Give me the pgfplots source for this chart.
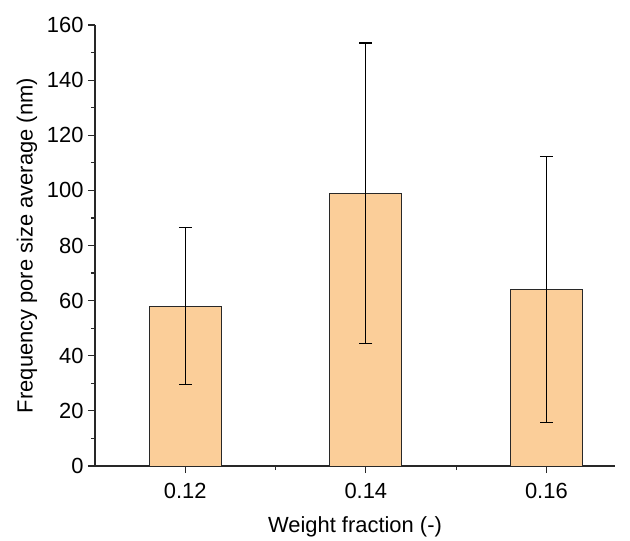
\documentclass[border=0pt]{standalone}
\usepackage{pgfplots}
\pgfplotsset{compat=1.18}
\usepackage{fontspec}
\setmainfont{Liberation Sans}
\definecolor{barfill}{RGB}{251,206,153}
\definecolor{axgray}{RGB}{40,40,40}
\begin{document}
\begin{tikzpicture}
\path[use as bounding box] (-95bp,-75bp) rectangle (535bp,466bp);
\begin{axis}[
  at={(0,0)}, anchor=south west,
  scale only axis, width=520bp, height=441bp,
  xmin=0.11, xmax=0.1676, ymin=0, ymax=160,
  axis x line*=bottom, axis y line*=left,
  axis line style={axgray, line width=1.2bp, -},
  xtick={0.12,0.14,0.16}, minor xtick={0.13,0.15},
  xticklabels={0.12,0.14,0.16},
  ytick={0,20,...,160}, minor ytick={10,30,...,150},
  tick align=outside,
  major tick length=7bp, minor tick length=4bp,
  tick style={axgray, line width=1.2bp},
  /pgf/number format/assume math mode=true,
  ticklabel style={font=\fontsize{22}{24}\selectfont},
  xticklabel style={yshift=-7bp},
  yticklabel style={xshift=-1bp},
  xlabel={Weight fraction (-)},
  ylabel={Frequency pore size average (nm)},
  label style={font=\fontsize{22}{24}\selectfont},
  xlabel style={yshift=-11bp},
  ylabel style={yshift=3bp},
  bar width=0.008,
]
\addplot[ybar, fill=barfill, draw=axgray, line width=1bp,
  error bars/.cd, y dir=both, y explicit,
  error bar style={black, line width=1.2bp},
  error mark options={rotate=90, mark size=6.5bp, line width=1.2bp, black}]
  coordinates {
  (0.12,58) +- (0,28.5)
  (0.14,99) +- (0,54.5)
  (0.16,64) +- (0,48.2)
  };
\end{axis}
\end{tikzpicture}
\end{document}
